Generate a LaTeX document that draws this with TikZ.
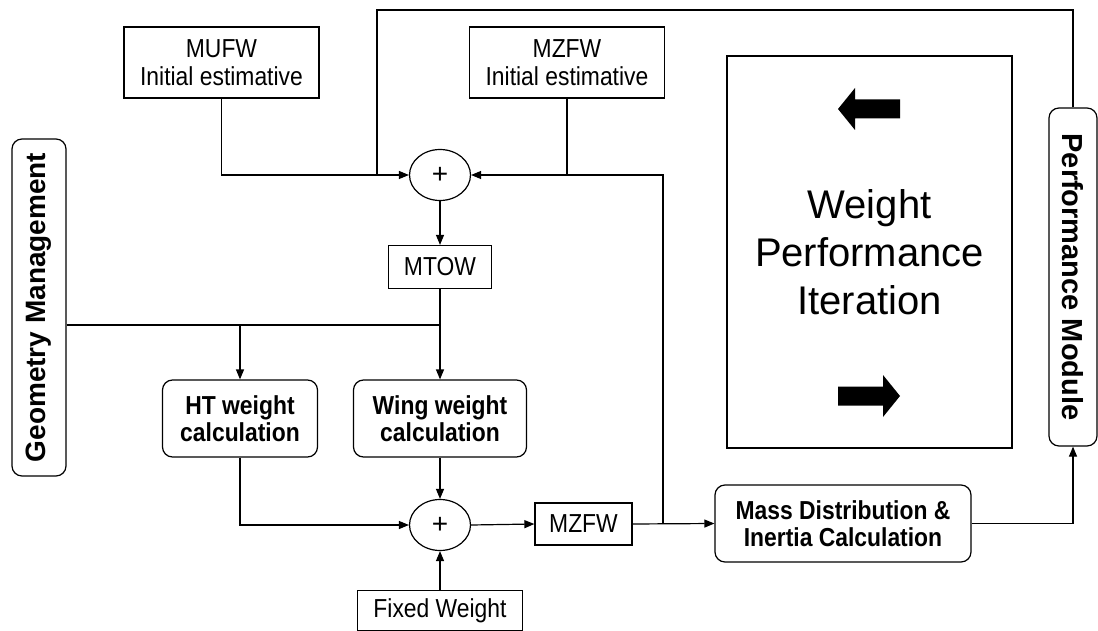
\documentclass[tikz,border=0pt]{standalone}
\usepackage{fontspec}
\setmainfont{Liberation Sans}
\newfontfamily\narrowsf{Liberation Sans}[FakeStretch=0.88]
\usetikzlibrary{arrows.meta,shapes.geometric}

\begin{document}
\begin{tikzpicture}[
  x=1pt, y=-1pt,
  box/.style={draw, line width=1.2pt, align=center, inner sep=0pt,
              font=\narrowsf\fontsize{26}{28}\selectfont},
  calc/.style={box, rounded corners=10pt,
               font=\narrowsf\fontsize{26}{27}\selectfont\bfseries},
  side/.style={draw, line width=1.2pt, rounded corners=10pt, inner sep=0pt},
  sum/.style={draw, ellipse, line width=1.2pt, minimum width=61,
              minimum height=51, inner sep=0pt,
              font=\fontsize{28}{28}\selectfont},
  ln/.style={line width=1.2pt},
  arr/.style={-{Triangle[length=10pt,width=8pt]}, line width=1.2pt}]

\useasboundingbox (0,0) rectangle (1098,631);

% inputs
\node[box, minimum width=195, minimum height=71] (mufw) at (221.5,62.5)
      {MUFW\\Initial estimative};
\node[box, minimum width=195, minimum height=71] (mzfwini) at (567,62.5)
      {MZFW\\Initial estimative};
\node[sum] (sumA) at (440,175) {+};
\node[box, minimum width=103, minimum height=43] (mtow) at (440,267) {MTOW};

% side modules
\node[side, rotate=90, minimum width=337, minimum height=54,
      font=\fontsize{28}{28}\selectfont\bfseries] (geo) at (39,307.5)
      {Geometry Management};
\node[side, rotate=-90, minimum width=338, minimum height=48,
      font=\fontsize{29}{29}\selectfont\bfseries] (perf) at (1073,277)
      {Performance Module};

% weight calculations
\node[calc, minimum width=155, minimum height=77] (ht) at (240,418.5)
      {HT weight\\calculation};
\node[calc, minimum width=173, minimum height=77] (wing) at (440,418.5)
      {Wing weight\\calculation};
\node[sum] (sumB) at (440,525) {+};
\node[box, minimum width=97, minimum height=42] (mzfw) at (583.5,524) {MZFW};
\node[box, minimum width=165, minimum height=40] (fixed) at (440,610.5)
      {Fixed Weight};
\node[calc, minimum width=256, minimum height=77] (mass) at (843,523.5)
      {Mass Distribution \&\\Inertia Calculation};

% iteration box
\node[box, minimum width=285, minimum height=392,
      font=\fontsize{40}{48}\selectfont] (iter) at (869.5,252)
      {Weight\\Performance\\Iteration};
\foreach \cx/\cy/\ang in {869/109/180, 869/396/0} {
  \fill[shift={(\cx,\cy)}, rotate=\ang]
    (-31,-9.5) -- (14,-9.5) -- (14,-21) -- (31,0) -- (14,21)
    -- (14,9.5) -- (-31,9.5) -- cycle;
}

\coordinate (fbtop) at (377,10);
\coordinate (split) at (440,325);
\coordinate (tap) at (663,524);

\draw[arr] (mufw.south) |- (sumA.west);
\draw[ln] (perf.west) |- (fbtop) -- (fbtop |- sumA.west);
\draw[ln] (mzfwini.south) -- (mzfwini.south |- sumA.east);
\draw[arr] (tap) |- (sumA.east);
\draw[arr] (sumA.south) -- (mtow.north);
\draw[arr] (mtow.south) -- (wing.north);
\draw[ln] (geo.south |- split) -- (split);
\draw[arr] (ht.north |- split) -- (ht.north);
\draw[arr] (ht.south) |- (sumB.west);
\draw[arr] (wing.south) -- (sumB.north);
\draw[arr] (fixed.north) -- (sumB.south);
\draw[arr] (sumB.east) -- (mzfw.west);
\draw[arr] (mzfw.east) -- (mass.west);
\draw[arr] (mass.east) -| (perf.east);
\end{tikzpicture}
\end{document}
